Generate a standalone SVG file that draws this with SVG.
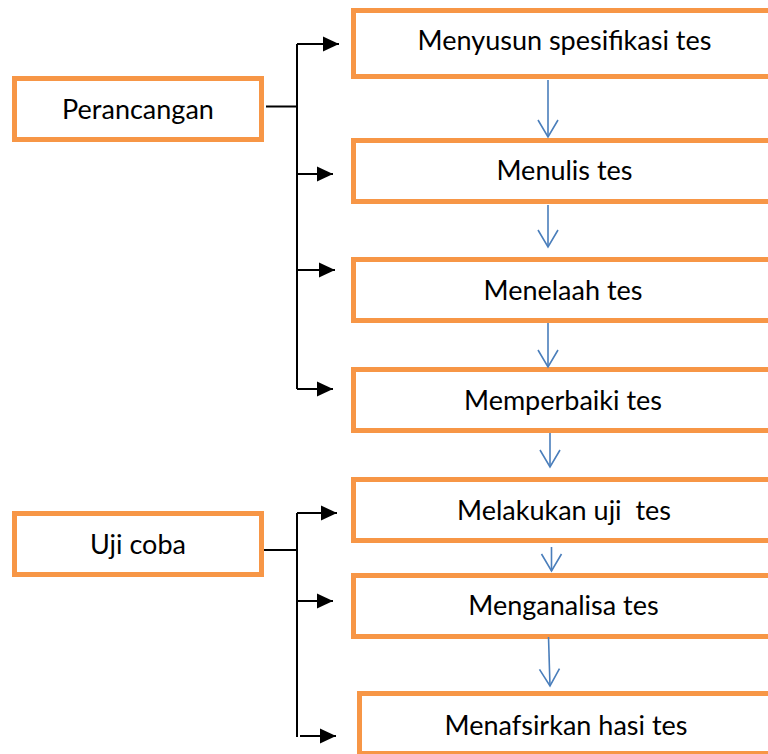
<svg xmlns="http://www.w3.org/2000/svg" width="768" height="754" viewBox="0 0 768 754">
<style>
.box{fill:#ffffff;stroke:#F79646;stroke-width:5}
.t{font-family:Lato,"Open Sans","Liberation Sans",sans-serif;font-size:27px;fill:#000;text-anchor:middle;white-space:pre}
.k{stroke:#000;stroke-width:2;fill:none}
.b{stroke:#4A7EBB;stroke-width:1.6;fill:none;marker-end:url(#va)}
.ka{marker-end:url(#ta)}
</style>
<defs>
<marker id="ta" markerUnits="userSpaceOnUse" viewBox="0 0 16 16" refX="16" refY="8" markerWidth="16" markerHeight="16" orient="auto">
<path d="M0,0.5 L16,8 L0,15.5 z" fill="#000"/>
</marker>
<marker id="va" markerUnits="userSpaceOnUse" viewBox="-19 -12 21 24" refX="0" refY="0" markerWidth="21" markerHeight="24" orient="auto">
<path d="M-17,-10 L0,0 L-17,10" fill="none" stroke="#4A7EBB" stroke-width="1.6"/>
</marker>
</defs>
<g id="perancangan"><rect class="box" x="14.5" y="78.5" width="247" height="61"/><text class="t" x="138" y="119">Perancangan</text></g>
<g id="ujicoba"><rect class="box" x="14.5" y="513.5" width="247" height="61"/><text class="t" x="138" y="554">Uji coba</text></g>
<g id="menyusun"><rect class="box" x="353.5" y="10.5" width="424" height="66"/><text class="t" x="564.5" y="50">Menyusun spesifikasi tes</text></g>
<g id="menulis"><rect class="box" x="353.5" y="140.5" width="424" height="61"/><text class="t" x="564.5" y="180">Menulis tes</text></g>
<g id="menelaah"><rect class="box" x="353.5" y="259.5" width="424" height="61"/><text class="t" x="563" y="300">Menelaah tes</text></g>
<g id="memperbaiki"><rect class="box" x="353.5" y="369.5" width="424" height="61"/><text class="t" x="563" y="410">Memperbaiki tes</text></g>
<g id="melakukan"><rect class="box" x="353.5" y="479.5" width="424" height="61"/><text class="t" x="564" y="520" xml:space="preserve">Melakukan uji  tes</text></g>
<g id="menganalisa"><rect class="box" x="353.5" y="575.5" width="424" height="61"/><text class="t" x="563.5" y="615">Menganalisa tes</text></g>
<g id="menafsirkan"><rect class="box" x="359.5" y="693.5" width="424" height="60"/><text class="t" x="566" y="735">Menafsirkan hasi tes</text></g>
<g id="connectors">
<path class="k" d="M266,106.5 H297 M297,44 V389"/>
<path class="k ka" d="M297,44 H339"/>
<path class="k ka" d="M297,174 H333"/>
<path class="k ka" d="M297,270 H335"/>
<path class="k ka" d="M297,389 H333"/>
<path class="k" d="M264,550 H297 M297,513 V737"/>
<path class="k ka" d="M297,513 H337"/>
<path class="k ka" d="M297,601 H333"/>
<path class="k ka" d="M300,736 H336"/>
<path class="b" d="M548,80 V137"/>
<path class="b" d="M548,205 V247"/>
<path class="b" d="M548,323 V367"/>
<path class="b" d="M550,433 V467"/>
<path class="b" d="M551.5,547 V571"/>
<path class="b" d="M548.5,637 L550,686"/>
</g>
</svg>
